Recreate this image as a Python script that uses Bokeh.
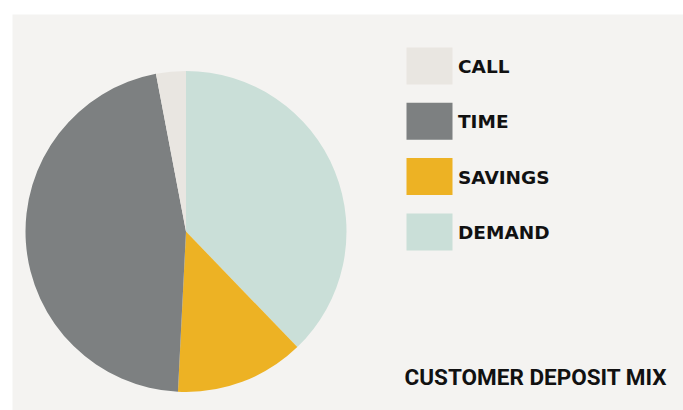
import math
from bokeh.plotting import figure
from bokeh.models import Range1d, ColumnDataSource
from bokeh.core.properties import value
from bokeh.embed import file_html
from bokeh.resources import INLINE

# ---- data ----
categories = ["CALL", "TIME", "SAVINGS", "DEMAND"]
shares = [3.0, 46.2, 13.0, 37.8]
colors = ["#e9e6e1", "#7d8081", "#edb224", "#cadfd8"]
pie_order = ["DEMAND", "SAVINGS", "TIME", "CALL"]  # clockwise from 12 o'clock
title = "CUSTOMER DEPOSIT MIX"

# ---- layout (pixels) ----
W, H = 683, 410
ML, MT = 12, 14              # white border left / top
FW, FH = W - ML, H - MT      # frame size
CX, CY, R = 185.5 - ML, 231 - MT, 160.5   # pie centre & radius, frame pixels

def dx(px):  # frame pixel x -> data
    return (px - CX) / R

def dy(py):  # frame pixel y (from top) -> data
    return (CY - py) / R

p = figure(width=W, height=H, output_backend="svg", toolbar_location=None,
           x_range=Range1d(dx(0), dx(FW)), y_range=Range1d(dy(FH), dy(0)),
           min_border_left=ML, min_border_top=MT, min_border_right=0, min_border_bottom=0)
p.axis.visible = False
p.grid.visible = False
p.outline_line_color = None
p.background_fill_color = "#f4f3f1"
p.border_fill_color = "white"

# pie wedges
total = sum(shares)
cum = 0.0
starts, ends, wcols = [], [], []
for name in pie_order:
    i = categories.index(name)
    c0 = cum / total
    cum += shares[i]
    c1 = cum / total
    starts.append(math.pi / 2 - 2 * math.pi * c1)
    ends.append(math.pi / 2 - 2 * math.pi * c0)
    wcols.append(colors[i])
src = ColumnDataSource(dict(start=starts, end=ends, color=wcols,
                            x=[0] * len(starts), y=[0] * len(starts)))
p.wedge(x="x", y="y", radius=1.0, start_angle="start", end_angle="end",
        direction="anticlock", fill_color="color", line_color=None, source=src)

# legend (manual)
sq_x0, sq_w, sq_h = 406 - ML, 46, 37
sq_top0, step = 47 - MT, 55.3
lx, ly, lw, lh, tx, ty = [], [], [], [], [], []
for k in range(len(categories)):
    top = sq_top0 + k * step
    lx.append(dx(sq_x0 + sq_w / 2))
    ly.append(dy(top + sq_h / 2))
    lw.append(sq_w / R)
    lh.append(sq_h / R)
    tx.append(dx(457.5 - ML))
    ty.append(dy(top + sq_h / 2 + 0.5))
lsrc = ColumnDataSource(dict(x=lx, y=ly, w=lw, h=lh, color=colors, tx=tx, ty=ty, label=categories))
p.rect(x="x", y="y", width="w", height="h", fill_color="color", line_color=None, source=lsrc)
p.text(x="tx", y="ty", text="label", source=lsrc, text_font=value("DejaVu Sans"),
       text_font_style="bold", text_font_size="18.5px", text_baseline="middle",
       text_color="#111111")

# title
p.text(x=[dx(404 - ML)], y=[dy(376.5 - MT)], text=[title],
       text_font=value("Roboto"), text_font_style="bold",
       text_font_size="22.5px", text_baseline="middle", text_color="#111111")

open("out.html", "w").write(file_html(p, INLINE))
